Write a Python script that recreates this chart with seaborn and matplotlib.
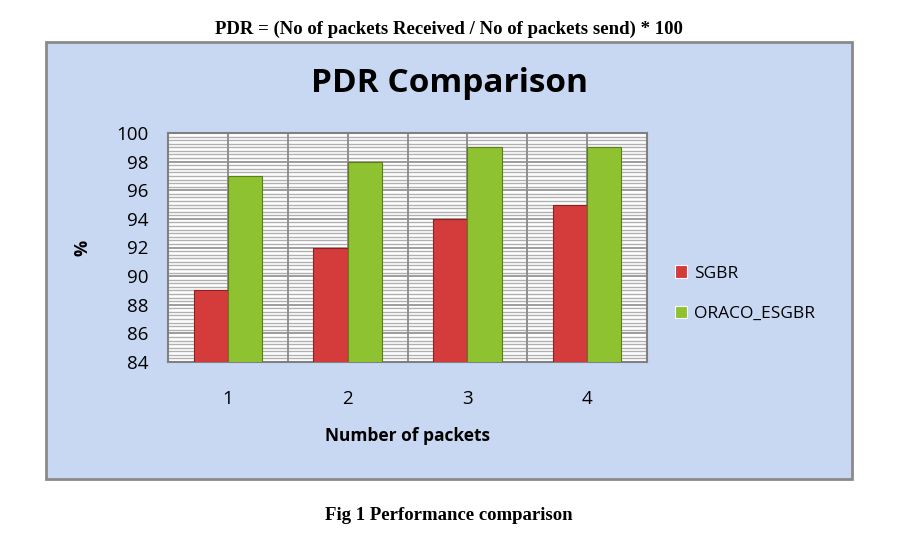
import matplotlib
matplotlib.use("Agg")
import matplotlib.pyplot as plt
import seaborn as sns
import pandas as pd
import numpy as np
from matplotlib.patches import Rectangle

categories = ["1", "2", "3", "4"]
sgbr = [89, 92, 94, 95]
oraco = [97, 98, 99, 99]
series_names = ["SGBR", "ORACO_ESGBR"]
y_ticks = [84, 86, 88, 90, 92, 94, 96, 98, 100]

df = pd.DataFrame({
    "packets": categories * 2,
    "value": sgbr + oraco,
    "series": [series_names[0]] * 4 + [series_names[1]] * 4,
})

sns.set_theme(style="white")
plt.rcParams["font.family"] = ["Open Sans", "DejaVu Sans"]
plt.rcParams["text.color"] = "black"
plt.rcParams["axes.labelcolor"] = "black"

W, H = 912, 545
fig = plt.figure(figsize=(W / 100, H / 100), dpi=100)
fig.patch.set_facecolor("white")

# chart box
box = Rectangle((46 / W, 1 - 479 / H), 806 / W, 437 / H,
                transform=fig.transFigure, facecolor="#c8d8f2",
                edgecolor="#8a8a8a", linewidth=2, zorder=-10)
fig.patches.append(box)

ax = fig.add_axes([168 / W, 1 - 362 / H, 479 / W, 229 / H])
ax.set_zorder(1)
ax.set_facecolor("white")

palette = {"SGBR": "#d43c3c", "ORACO_ESGBR": "#8fc231"}
sns.barplot(data=df, x="packets", y="value", hue="series", palette=palette,
            width=0.57, ax=ax, saturation=1, linewidth=0.8,
            zorder=3, legend=True)

for patch, ec in zip(ax.patches, ["#8f2020"] * 4 + ["#5c7d1c"] * 4):
    patch.set_edgecolor(ec)

ax.set_ylim(84, 100)
ax.set_yticks(y_ticks)
ax.set_yticks(np.arange(84, 100.01, 0.25), minor=True)
ax.yaxis.grid(True, which="minor", color="#b0b0b0", linewidth=1.0, zorder=0)
ax.yaxis.grid(True, which="major", color="#8c8c8c", linewidth=1.2, zorder=0)
ax.set_axisbelow(True)
for xv in np.arange(-0.5, 3.6, 0.5):
    ax.axvline(xv, color="#909090", linewidth=1.4, zorder=1)
ax.set_xlim(-0.5, 3.5)

for s in ax.spines.values():
    s.set_color("#808080")
    s.set_linewidth(1.5)

ax.tick_params(axis="both", which="both", length=0)
ax.tick_params(axis="y", pad=14, labelsize=13.5, labelcolor="black")
ax.tick_params(axis="x", pad=20, labelsize=13.5, labelcolor="black")
ax.set_xlabel("Number of packets", fontsize=12.5, fontweight="bold", labelpad=14)
ax.set_ylabel("%", fontsize=13, fontweight="bold", labelpad=18)

leg = ax.legend(loc="upper left", bbox_to_anchor=(1.025, 0.49), frameon=False,
                fontsize=12.5, handlelength=0.7, handleheight=0.7,
                labelspacing=1.4, handletextpad=0.4)
for t in leg.get_texts():
    t.set_color("black")

fig.text(450 / W, 1 - 83 / H, "PDR Comparison", ha="center", va="center",
         fontsize=24, fontweight="bold", color="black")
fig.text(449 / W, 1 - 29 / H, "PDR = (No of packets Received / No of packets send) * 100",
         ha="center", va="center", fontsize=13.5, fontweight="bold", color="black",
         family=["Liberation Serif", "DejaVu Serif"])
fig.text(449 / W, 1 - 516 / H, "Fig 1 Performance comparison",
         ha="center", va="center", fontsize=13.5, fontweight="bold", color="black",
         family=["Liberation Serif", "DejaVu Serif"])

fig.savefig("out.png", dpi=100)
